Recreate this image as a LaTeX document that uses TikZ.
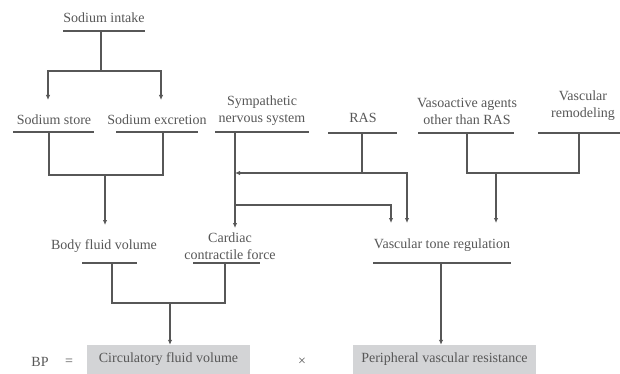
\documentclass[tikz,border=0pt]{standalone}
\usepackage{fontspec}
\setmainfont{Liberation Serif}
\usepackage{xcolor}
\usetikzlibrary{arrows.meta}
\definecolor{inkgray}{HTML}{575757}
\definecolor{boxgray}{HTML}{D3D4D6}

\begin{document}
\begin{tikzpicture}[x=1pt,y=-1pt,font=\fontsize{14}{17}\selectfont]
        % styles
        \tikzset{lbl/.style={text=inkgray, align=center, inner sep=0pt}}
        \tikzset{bar/.style={fill=inkgray, inner sep=0pt, outer sep=0pt, minimum height=1.7pt, minimum width=#1}}
        \tikzset{ln/.style={draw=inkgray, line width=1.7pt}}
        \tikzset{arr/.style={ln, -{Latex[length=5pt,width=4.5pt]}}}
        \tikzset{result/.style={lbl, fill=boxgray, minimum height=29pt}}

        \useasboundingbox (0,0) rectangle (620,374);

        % 1. labels and their bars
        \node[lbl] (intake) at (104,18) {Sodium intake};
        \node[bar=82pt] (intakeBar) at (104,31) {};
        \node[lbl] (store) at (54,120) {Sodium store};
        \node[bar=81pt] (storeBar) at (53.5,132) {};
        \node[lbl] (excr) at (157,120) {Sodium excretion};
        \node[bar=82pt] (excrBar) at (157,132) {};
        \node[lbl] (sns) at (262,111) {Sympathetic\\nervous system};
        \node[bar=94pt] (snsBar) at (262,132) {};
        \node[lbl] (ras) at (363,118) {RAS};
        \node[bar=69pt] (rasBar) at (362.5,133) {};
        \node[lbl] (vaso) at (467,111) {Vasoactive agents\\other than RAS};
        \node[bar=96pt] (vasoBar) at (466,133) {};
        \node[lbl] (remod) at (583,106) {Vascular\\remodeling};
        \node[bar=82pt] (remodBar) at (579,133) {};
        \node[lbl] (body) at (104,246) {Body fluid volume};
        \node[bar=55pt] (bodyBar) at (109.5,263) {};
        \node[lbl] (cardiac) at (230,246) {Cardiac\\contractile force};
        \node[bar=67pt] (cardiacBar) at (226.5,263) {};
        \node[lbl] (tone) at (442,245) {Vascular tone regulation};
        \node[bar=138pt] (toneBar) at (442,263) {};

        % 2. bottom equation
        \node[lbl] (bp) at (40,362) {BP};
        \node[lbl] (eq) at (69,362) {=};
        \node[result, minimum width=163pt] (circ) at (168.5,359.5) {Circulatory fluid volume};
        \node[lbl] (times) at (302,362) {×};
        \node[result, minimum width=183pt] (periph) at (444.5,359.5) {Peripheral vascular resistance};

        % 3. junctions and arrow ends
        \coordinate (jIntake) at (101,71);
        \coordinate (aStore) at (48,100);
        \coordinate (aExcr) at (161,100);
        \coordinate (jNaL) at (49,175);
        \coordinate (jNaR) at (163,175);
        \coordinate (jNa) at (105,175);
        \coordinate (aBody) at (105,225);
        \coordinate (aCardiac) at (235,228);
        \coordinate (aSns) at (235,173);
        \coordinate (jRas) at (362,173);
        \coordinate (aTone1) at (391,223);
        \coordinate (aTone2) at (407,223);
        \coordinate (jSns) at (235,205);
        \coordinate (jVasoL) at (467,173);
        \coordinate (jVasoR) at (579,173);
        \coordinate (jVaso) at (496,173);
        \coordinate (aTone3) at (496,223);
        \coordinate (jVolL) at (112,303);
        \coordinate (jVolR) at (225,303);
        \coordinate (jVol) at (170,303);
        \coordinate (jTone) at (441,263);

        % 4. connectors
        \draw[ln] (intakeBar.center -| jIntake) -- (jIntake);
        \draw[arr] (jIntake) -| (aStore);
        \draw[arr] (jIntake) -| (aExcr);

        \draw[ln] (storeBar.center -| jNaL) -- (jNaL) -- (jNaR) -- (excrBar.center -| jNaR);
        \draw[arr] (jNa) -- (aBody);

        \draw[arr] (snsBar.center -| aCardiac) -- (aCardiac);
        \draw[arr] (rasBar.center -| jRas) -- (jRas) -- (aSns);
        \draw[arr] (jRas) -| (aTone2);
        \draw[arr] (jSns) -| (aTone1);

        \draw[ln] (vasoBar.center -| jVasoL) -- (jVasoL) -- (jVasoR) -- (remodBar.center -| jVasoR);
        \draw[arr] (jVaso) -- (aTone3);

        \draw[ln] (bodyBar.center -| jVolL) -- (jVolL) -- (jVolR) -- (cardiacBar.center -| jVolR);
        \draw[arr] (jVol) -- (circ.north -| jVol);
        \draw[arr] (jTone) -- (periph.north -| jTone);
    \end{tikzpicture}
\end{document}
